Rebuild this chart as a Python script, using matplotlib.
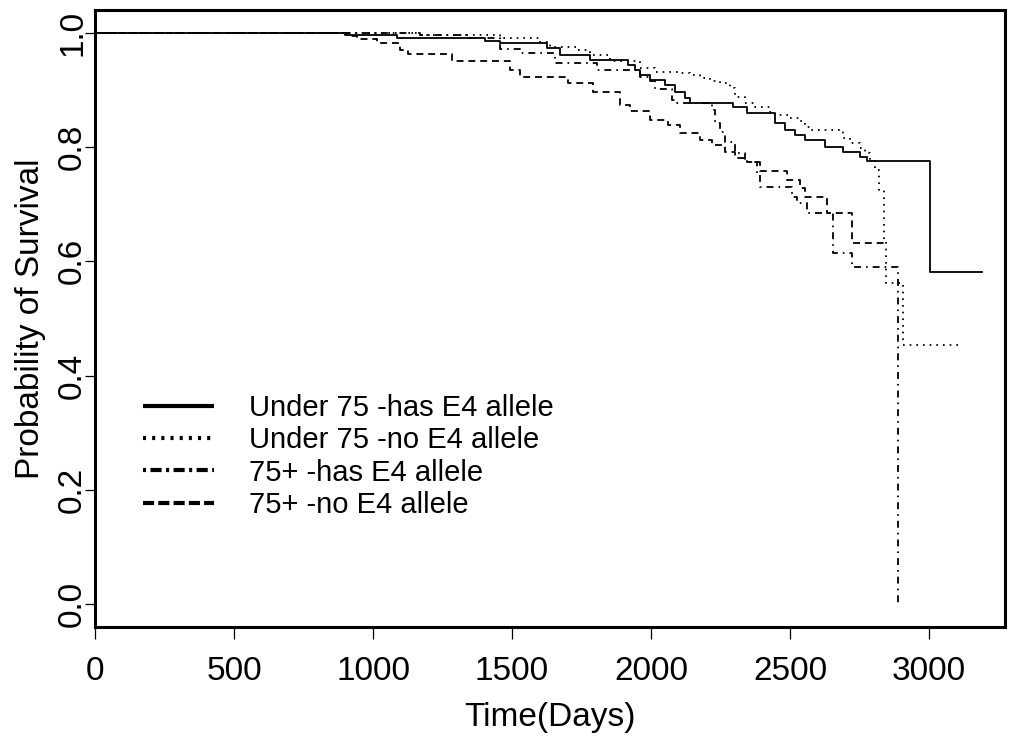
import numpy as np
import matplotlib
matplotlib.use("Agg")
import matplotlib.pyplot as plt
from matplotlib.lines import Line2D

plt.rcParams['font.family'] = ['Liberation Sans', 'DejaVu Sans']
plt.rcParams['lines.scale_dashes'] = False

# Kaplan-Meier step estimates (days, survival)
u75_e4_t = [0, 899, 1086, 1403, 1457, 1626, 1673, 1781, 1917, 1942, 1960, 1996, 2050,
            2086, 2122, 2140, 2295, 2345, 2446, 2482, 2518, 2554, 2626, 2691, 2752, 2777,
            3004, 3191]
u75_e4_s = [1.0, 0.996, 0.991, 0.985, 0.982, 0.973, 0.961, 0.953, 0.944, 0.935, 0.926,
            0.917, 0.909, 0.897, 0.886, 0.877, 0.871, 0.859, 0.842, 0.830, 0.821, 0.812,
            0.801, 0.792, 0.783, 0.776, 0.582, 0.582]

u75_no_t = [0, 1169, 1457, 1601, 1637, 1734, 1781, 1853, 1960, 2014, 2104, 2140, 2176,
            2212, 2248, 2284, 2302, 2338, 2374, 2428, 2446, 2500, 2536, 2554, 2572, 2691,
            2716, 2752, 2770, 2788, 2806, 2820, 2838, 2845, 2906, 3122]
u75_no_s = [1.0, 0.997, 0.991, 0.984, 0.976, 0.970, 0.961, 0.950, 0.938, 0.932, 0.929,
            0.926, 0.921, 0.915, 0.912, 0.904, 0.888, 0.877, 0.871, 0.862, 0.856, 0.851,
            0.845, 0.836, 0.830, 0.816, 0.807, 0.798, 0.789, 0.775, 0.760, 0.725, 0.640,
            0.563, 0.454, 0.454]

o75_e4_t = [0, 1169, 1349, 1457, 1529, 1655, 1806, 1960, 1996, 2014, 2076, 2094, 2219,
            2230, 2248, 2266, 2302, 2338, 2381, 2392, 2507, 2525, 2561, 2655, 2723, 2888]
o75_e4_s = [1.0, 0.996, 0.991, 0.972, 0.964, 0.947, 0.935, 0.923, 0.915, 0.901, 0.883,
            0.877, 0.865, 0.842, 0.826, 0.809, 0.790, 0.774, 0.755, 0.731, 0.713, 0.703,
            0.685, 0.615, 0.590, 0.0]

o75_no_t = [0, 917, 942, 1014, 1097, 1126, 1284, 1493, 1529, 1701, 1791, 1888, 1924,
            1996, 2061, 2104, 2176, 2219, 2266, 2302, 2345, 2392, 2489, 2536, 2554, 2633,
            2723, 2845]
o75_no_s = [1.0, 0.995, 0.989, 0.983, 0.970, 0.963, 0.950, 0.935, 0.923, 0.912, 0.896,
            0.874, 0.863, 0.848, 0.839, 0.825, 0.813, 0.804, 0.792, 0.781, 0.774, 0.758,
            0.743, 0.729, 0.713, 0.685, 0.632, 0.632]

labels = ["Under 75 -has E4 allele", "Under 75 -no E4 allele",
          "75+ -has E4 allele", "75+ -no E4 allele"]

curve_dash = [(None), (1.2, 3.6), (1.2, 3.6, 5.0, 3.6), (5.0, 3.5)]
legend_dash = [(None), (2.2, 4.4), (2.2, 3.2, 8.0, 3.2), (8.0, 3.0)]

fig = plt.figure(figsize=(10.09, 7.41), dpi=100)
ax = fig.add_axes([95 / 1009, 114 / 741, 910 / 1009, 617 / 741])

series = [(u75_e4_t, u75_e4_s), (u75_no_t, u75_no_s),
          (o75_e4_t, o75_e4_s), (o75_no_t, o75_no_s)]
for (t, s), d in zip(series, curve_dash):
    line, = ax.step(t, s, where='post', color='black', lw=1.3)
    if d is not None:
        line.set_dashes(d)

# legend
handles = []
for d in legend_dash:
    h = Line2D([], [], color='black', lw=3.0, solid_capstyle='butt', dash_capstyle='butt')
    if d is not None:
        h.set_dashes(d)
    handles.append(h)
ax.legend(handles, labels, loc='upper left', bbox_to_anchor=(0.0527, 0.378),
          frameon=False, fontsize=21, handlelength=2.45, handletextpad=1.2,
          labelspacing=0.15, borderpad=0, borderaxespad=0)

ax.set_xlim(0, 3273)
ax.set_ylim(-0.04, 1.04)
ax.set_xticks(np.arange(0, 3001, 500))
ax.set_yticks(np.arange(0, 1.01, 0.2))
ax.set_yticklabels(["0.0", "0.2", "0.4", "0.6", "0.8", "1.0"], rotation=90, va='center')
ax.tick_params(axis='x', length=8.6, width=0.9, pad=12.5, labelsize=24)
ax.tick_params(axis='y', length=7.2, width=0.9, pad=-2.2, labelsize=24)
for sp in ax.spines.values():
    sp.set_linewidth(2.2)

ax.set_xlabel("Time(Days)", fontsize=24)
ax.set_ylabel("Probability of Survival", fontsize=24)
ax.xaxis.set_label_coords(0.5, -0.1216)
ax.yaxis.set_label_coords(-0.0538, 0.5)

fig.savefig("out.png", dpi=100)
